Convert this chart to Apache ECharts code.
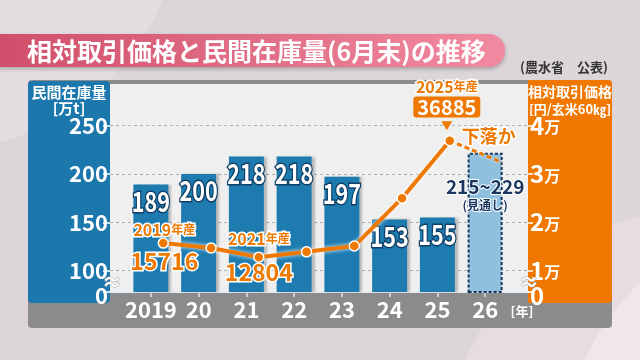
<!DOCTYPE html>
<html><head><meta charset="utf-8">
<script src="https://cdn.jsdelivr.net/npm/echarts@6/dist/echarts.min.js"></script>
<style>html,body{margin:0;padding:0;background:#dcd5da}#c{width:640px;height:360px}</style>
</head><body><div id="c"></div>
<script>
// ---- data ----
const years = ['2019', '20', '21', '22', '23', '24', '25', '26'];
const stock = [189, 200, 218, 218, 197, 153, 155, 222];          // 万t (26 = outlook midpoint)
const stockLabels = ['189', '200', '218', '218', '197', '153', '155', '215~229'];
const price = [15716, 14700, 12804, 13900, 15100, 25000, 36885]; // 円/玄米60kg, crops 2019..2025
const priceForecastEnd = 32400;                                   // dashed "下落か" end value
const leftTicks = [100, 150, 200, 250];
const rightTicks = [10000, 20000, 30000, 40000];

// ---- scale settings (broken axes) ----
const LEFT_MIN = 78, LEFT_MAX = 293;
const RIGHT_MIN = 5600, RIGHT_MAX = 48600;
const PRICE_X_SHIFT = 0.26;
const FORECAST_X = 7.35;

const FONT = "'Noto Sans CJK JP','Noto Sans',sans-serif";
const NUMFONT = "'Noto Sans CJK JP',sans-serif";
const ORANGE = '#ee7800', BLUE = '#1d7bb0', NAVY = '#17355f';

const chart = echarts.init(document.getElementById('c'), null, {renderer: 'canvas'});

const noteRich = {
  y: {fontSize: 16, fontWeight: 'bold', color: ORANGE, textBorderColor: '#fff', textBorderWidth: 3, fontFamily: FONT, lineHeight: 20},
  u: {fontSize: 12, fontWeight: 'bold', color: ORANGE, textBorderColor: '#fff', textBorderWidth: 3, fontFamily: FONT, lineHeight: 20},
  v: {fontSize: 23, fontWeight: 'bold', color: ORANGE, textBorderColor: '#fff', textBorderWidth: 3, fontFamily: FONT, lineHeight: 26},
  s: {fontSize: 1, lineHeight: 9},
  s2: {fontSize: 1, lineHeight: 11},
  b: {fontSize: 20, fontWeight: 'bold', color: '#fff', backgroundColor: ORANGE, padding: [1, 4, 0, 4], borderRadius: 3, fontFamily: FONT, lineHeight: 20}
};

const priceData = price.map((v, i) => {
  const item = {value: [i + PRICE_X_SHIFT, v]};
  if (i === 0) {
    item.label = {show: true, position: 'inside', offset: [1, 4], formatter: '{y|2019}{u|年産}\n{s| }\n{v|15716}', rich: noteRich};
  } else if (i === 2) {
    item.label = {show: true, position: 'inside', offset: [0, 0], formatter: '{y|2021}{u|年産}\n{s2| }\n{v|12804}', rich: noteRich};
  } else if (i === 6) {
    item.label = {show: true, position: 'top', distance: 18, offset: [-3, 0], formatter: '{y|2025}{u|年産}\n{b|36885}', rich: noteRich};
  }
  return item;
});

const option = {
  animation: false,
  backgroundColor: '#dcd5da',
  graphic: {elements: [
    {type: 'circle', z: 1, shape: {cx: -60, cy: -90, r: 240}, style: {fill: '#e3dde1'}},
    {type: 'circle', z: 1, shape: {cx: 820, cy: 470, r: 260}, style: {fill: '#f1eef0'}},
    {type: 'circle', z: 1, shape: {cx: 700, cy: 470, r: 260}, style: {fill: 'rgba(240,225,232,0.6)'}},
    // title bar
    {type: 'rect', z: 3, shape: {x: -20, y: 34, width: 525, height: 33, r: 16},
      style: {fill: new echarts.graphic.LinearGradient(0, 0, 1, 0, [{offset: 0, color: '#cf4d68'}, {offset: 1, color: '#f18ba2'}]),
        shadowColor: 'rgba(0,0,0,0.25)', shadowBlur: 4, shadowOffsetY: 2}},
    {type: 'text', z: 4, style: {x: 27, y: 51, text: '相対取引価格と民間在庫量(6月末)の推移', fill: '#fff', font: 'bold 25px ' + FONT, verticalAlign: 'middle'}},
    {type: 'text', z: 4, style: {x: 564, y: 67, text: '(農水省　公表)', fill: '#333', font: 'bold 13px ' + FONT, align: 'center', verticalAlign: 'middle'}},
    // panels
    {type: 'rect', z: 2, shape: {x: 28, y: 80, width: 584, height: 248, r: 4}, style: {fill: '#8b8b8b'}},
    {type: 'rect', z: 2, shape: {x: 110, y: 84, width: 418, height: 208}, style: {fill: '#efefef'}},
    {type: 'rect', z: 2, shape: {x: 28, y: 81, width: 82, height: 222, r: 4}, style: {fill: '#1c78ac'}},
    {type: 'rect', z: 2, shape: {x: 528, y: 80, width: 84, height: 223, r: [0, 4, 4, 0]}, style: {fill: '#f07800'}},
    {type: 'text', z: 20, style: {x: 69, y: 92, text: '民間在庫量', fill: '#fff', font: 'bold 15px ' + FONT, align: 'center', verticalAlign: 'middle'}},
    {type: 'text', z: 20, style: {x: 69, y: 108, text: '[万t]', fill: '#fff', font: 'bold 15px ' + FONT, align: 'center', verticalAlign: 'middle'}},
    {type: 'text', z: 20, style: {x: 570, y: 92, text: '相対取引価格', fill: '#fff', font: 'bold 14px ' + FONT, align: 'center', verticalAlign: 'middle'}},
    {type: 'text', z: 20, style: {x: 570, y: 109, text: '[円/玄米60㎏]', fill: '#fff', font: 'bold 13px ' + FONT, align: 'center', verticalAlign: 'middle'}},
    {type: 'text', z: 20, style: {x: 522, y: 311, text: '[年]', fill: '#fff', font: 'bold 13px ' + FONT, align: 'center', verticalAlign: 'middle'}},
    {type: 'text', z: 20, style: {x: 112, y: 282, text: '≈', fill: '#fff', stroke: '#999', lineWidth: 0.8, font: 'bold 20px ' + FONT, align: 'center', verticalAlign: 'middle'}},
    {type: 'text', z: 20, style: {x: 529, y: 282, text: '≈', fill: '#fff', stroke: '#999', lineWidth: 0.8, font: 'bold 20px ' + FONT, align: 'center', verticalAlign: 'middle'}}
  ]},
  grid: [
    {left: 127, right: 131, top: 84, bottom: 68},
    {left: 110, right: 112, top: 84, bottom: 68}
  ],
  xAxis: [
    {type: 'category', gridIndex: 0, data: years, z: 6,
      axisLine: {show: false},
      axisTick: {show: true, alignWithLabel: true, interval: 0, length: 5, lineStyle: {color: '#e2e2e2', width: 1.5}},
      axisLabel: {interval: 0, color: '#fff', fontSize: 22, fontWeight: 'bold', fontFamily: NUMFONT, margin: 7}},
    {type: 'value', gridIndex: 0, min: -0.5, max: 7.5, show: false},
    {type: 'value', gridIndex: 1, min: 0, max: 1, z: 6,
      axisLine: {show: true, onZero: false, lineStyle: {color: '#e4edf3', width: 2}},
      axisTick: {show: false}, axisLabel: {show: false}, splitLine: {show: false}}
  ],
  yAxis: [
    {type: 'value', gridIndex: 0, min: LEFT_MIN, max: LEFT_MAX, show: false},
    {type: 'value', gridIndex: 0, min: RIGHT_MIN, max: RIGHT_MAX, show: false},
    {type: 'value', gridIndex: 1, min: LEFT_MIN, max: LEFT_MAX, position: 'left', z: 6,
      axisLine: {show: false}, splitLine: {show: false},
      axisTick: {show: true, customValues: [LEFT_MIN].concat(leftTicks), length: 7, lineStyle: {color: '#fff', width: 1.5}},
      axisLabel: {customValues: [LEFT_MIN].concat(leftTicks), color: '#fff', fontSize: 22, fontWeight: 'bold', fontFamily: NUMFONT, margin: 2,
        formatter: v => v === LEFT_MIN ? '{z|0}' : String(v),
        rich: {z: {fontSize: 22, fontWeight: 'bold', color: '#fff', fontFamily: NUMFONT, padding: [8, 0, 0, 0]}}}},
    {type: 'value', gridIndex: 1, min: RIGHT_MIN, max: RIGHT_MAX, position: 'right', z: 6,
      axisLine: {show: false}, splitLine: {show: false},
      axisTick: {show: true, customValues: [RIGHT_MIN].concat(rightTicks), length: 5, lineStyle: {color: '#fff', width: 1.5}},
      axisLabel: {customValues: [RIGHT_MIN].concat(rightTicks), margin: 2,
        formatter: v => v === RIGHT_MIN ? '{z|0}' : '{n|' + (v / 10000) + '}{m|万}',
        rich: {
          n: {fontSize: 24, fontWeight: 'bold', color: '#fff', fontFamily: NUMFONT},
          m: {fontSize: 16, fontWeight: 'bold', color: '#fff', fontFamily: FONT, padding: [3, 0, 0, 0]},
          z: {fontSize: 24, fontWeight: 'bold', color: '#fff', fontFamily: NUMFONT, padding: [8, 0, 0, 0]}}}}
  ],
  series: [
    {type: 'line', xAxisIndex: 2, yAxisIndex: 2, data: [], z: 3, silent: true,
      markLine: {silent: true, symbol: ['none', 'none'], label: {show: false},
        lineStyle: {type: [3, 3], color: '#b0b0b0', width: 1},
        data: leftTicks.map(v => ({yAxis: v}))}},
    {type: 'bar', xAxisIndex: 0, yAxisIndex: 0, barWidth: 35, z: 8,
      data: stock.map((v, i) => i === stock.length - 1 ? {
        value: v,
        itemStyle: {color: '#8fc0dd', borderColor: NAVY, borderWidth: 2, borderType: [3, 2], shadowColor: 'rgba(0,0,0,0)'},
        label: {show: true, position: 'insideTop', distance: 24, formatter: '{a|215~229}\n{b|(見通し)}',
          rich: {a: {fontSize: 19, fontWeight: 'bold', color: NAVY, textBorderColor: '#fff', textBorderWidth: 2, fontFamily: FONT, lineHeight: 20},
                 b: {fontSize: 12, fontWeight: 'bold', color: NAVY, textBorderColor: '#fff', textBorderWidth: 2, fontFamily: FONT, lineHeight: 18}}}
      } : v),
      itemStyle: {color: BLUE, shadowColor: 'rgba(0,0,0,0.22)', shadowOffsetX: 3, shadowBlur: 2},
      label: {show: false}},
    // condensed value labels on top of the bars
    {type: 'custom', xAxisIndex: 0, yAxisIndex: 0, z: 9, silent: true,
      data: stock.map((v, i) => [i, v]),
      renderItem: (params, api) => {
        const i = params.dataIndex;
        if (i === stock.length - 1) return null;
        const pt = api.coord([api.value(0), api.value(1)]);
        return {type: 'text', x: pt[0], y: pt[1] + 17, scaleX: 0.8,
          style: {text: stockLabels[i], fill: '#fff', stroke: '#0f3f66', lineWidth: 3,
            font: 'bold 27px ' + NUMFONT, align: 'center', verticalAlign: 'middle'}};
      }},
    {type: 'line', xAxisIndex: 1, yAxisIndex: 1, z: 10,
      data: [[6 + PRICE_X_SHIFT, price[6]], [FORECAST_X, priceForecastEnd]],
      symbol: 'none', lineStyle: {color: ORANGE, width: 3, type: [5, 3], shadowColor: 'rgba(255,255,255,0.9)', shadowBlur: 3},
      markPoint: {symbol: 'circle', symbolSize: 0, silent: true,
        data: [{coord: [FORECAST_X, priceForecastEnd],
          label: {show: true, formatter: '下落か', offset: [-13, -26], color: ORANGE, fontSize: 18, fontWeight: 'bold', fontFamily: FONT, textBorderColor: '#fff', textBorderWidth: 3}}]}},
    {type: 'line', xAxisIndex: 1, yAxisIndex: 1, z: 12,
      data: priceData,
      symbol: 'circle', symbolSize: 10, showSymbol: true,
      itemStyle: {color: ORANGE, borderColor: '#fff', borderWidth: 1.5},
      lineStyle: {color: ORANGE, width: 4, shadowColor: 'rgba(255,255,255,0.9)', shadowBlur: 4},
      label: {show: false},
      markPoint: {silent: true, symbol: 'triangle', symbolRotate: 180, symbolSize: [11, 9],
        data: [{coord: [6 + PRICE_X_SHIFT, price[6]], symbolOffset: [-3, -15], itemStyle: {color: ORANGE}, label: {show: false}}]}}
  ]
};
chart.setOption(option);
</script></body></html>
